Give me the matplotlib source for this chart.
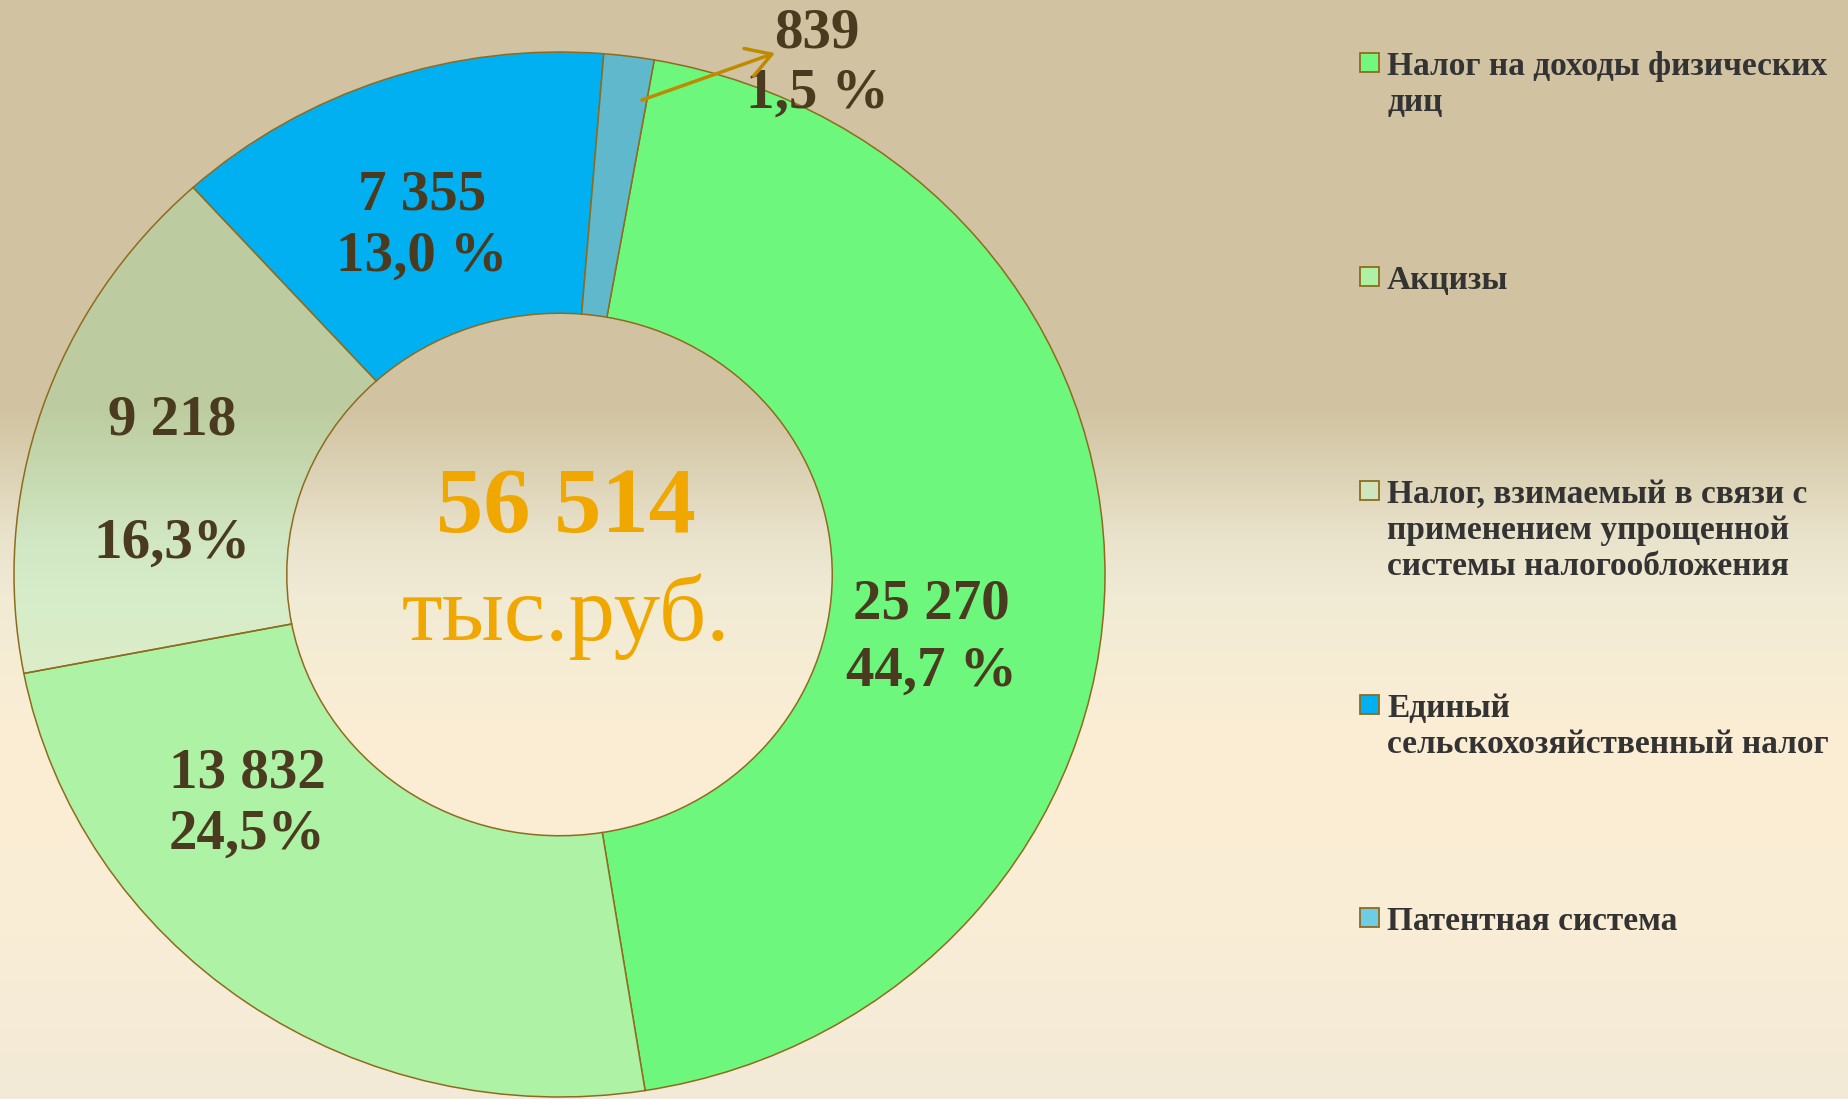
import numpy as np
import matplotlib
matplotlib.use("Agg")
import matplotlib.pyplot as plt
from matplotlib.patches import Rectangle

# data (тыс. руб.)
categories = ["Налог на доходы физических\nдиц",
              "Акцизы",
              "Налог, взимаемый в связи с\nприменением упрощенной\nсистемы налогообложения",
              "Единый\nсельскохозяйственный налог",
              "Патентная система"]
values = [25270, 13832, 9218, 7355, 839]
value_labels = ["25 270", "13 832", "9 218", "7 355", "839"]
pct_labels = ["44,7 %", "24,5%", "16,3%", "13,0 %", "1,5 %"]
unit_label = "тыс.руб."

wedge_colors = ["#6DF77D", "#AEF2A6", (0.43, 0.96, 0.61, 0.2), "#00B0F0", "#5FB8CC"]
legend_colors = ["#72F87F", "#AEF0A4", "#CFE5BE", "#00B0F0", "#6DCDE6"]
edge = "#8F6B1E"
label_col = "#4A3B20"
center_col = "#F0A800"

W, H = 1848, 1099
fig = plt.figure(figsize=(W / 100, H / 100), dpi=100)

# background: vertical gradient tan -> cream
stops = [(0.0, "#D1C3A1"), (0.37, "#D1C3A1"), (0.43, "#DCD2B5"), (0.49, "#EAE3CC"),
         (0.55, "#F2EBD5"), (0.68, "#FCEED4"), (0.85, "#F9EDD6"), (1.0, "#F2EAD6")]
pos = [s[0] for s in stops]
rgb = np.array([matplotlib.colors.to_rgb(s[1]) for s in stops])
yy = np.linspace(0, 1, H)
grad = np.stack([np.interp(yy, pos, rgb[:, k]) for k in range(3)], axis=-1)[:, None, :]
bg = fig.add_axes([0, 0, 1, 1], zorder=-1)
bg.imshow(grad, aspect="auto", extent=[0, 1, 0, 1], origin="upper")
bg.axis("off")

# pie axes (slightly squashed vertically like the original)
ax = fig.add_axes([14 / W, 2 / H, 1091 / W, 1045 / H])
wedges, _ = ax.pie(values, colors=wedge_colors, startangle=80, counterclock=False,
                   wedgeprops=dict(width=0.5, edgecolor=edge, linewidth=1.1))
ax.set_aspect("auto")
ax.set_xlim(-1, 1)
ax.set_ylim(-1, 1)
ax.axis("off")

font = "Liberation Serif"
val_pos = [(0.681, -0.085), (-0.572, -0.407), (-0.711, 0.267), (-0.252, 0.698), (0.472, 1.008)]
pct_pos = [(0.681, -0.213), (-0.572, -0.525), (-0.711, 0.032), (-0.252, 0.581), (0.472, 0.893)]
for v, p, (vx, vy), (px, py) in zip(value_labels, pct_labels, val_pos, pct_pos):
    ax.text(vx, vy, v, ha="center", va="baseline", fontsize=41, fontweight="bold",
            family=font, color=label_col, clip_on=False)
    ax.text(px, py, p, ha="center", va="baseline", fontsize=41, fontweight="bold",
            family=font, color=label_col, clip_on=False)

# arrow for the small slice
ax.annotate("", xy=(0.395, 0.998), xytext=(0.151, 0.908), annotation_clip=False,
            arrowprops=dict(arrowstyle="->,head_length=0.5,head_width=0.3",
                            color="#C08A00", lw=2.5, mutation_scale=35,
                            shrinkA=0, shrinkB=0))

total = sum(values)
ax.text(0.012, 0.082, f"{total:,}".replace(",", " "), ha="center", va="baseline",
        fontsize=68, fontweight="bold", family=font, color=center_col)
ax.text(0.012, -0.125, unit_label, ha="center", va="baseline",
        fontsize=67, family=font, color=center_col)

# legend drawn by hand so entries stay evenly spaced, lines one by one
base_y = [75, 289, 503, 717, 930]
line_step = 36
for lab, col, by in zip(categories, legend_colors, base_y):
    fig.add_artist(Rectangle((1360 / W, 1 - (by - 3) / H), 19 / W, 19 / H,
                             transform=fig.transFigure, facecolor=col,
                             edgecolor=edge, linewidth=1.3))
    for i, line in enumerate(lab.split("\n")):
        fig.text(1387 / W, 1 - (by + i * line_step) / H, line, ha="left", va="baseline",
                 fontsize=24, fontweight="bold", family=font, color="#333333")

fig.savefig("out.png", dpi=100)
